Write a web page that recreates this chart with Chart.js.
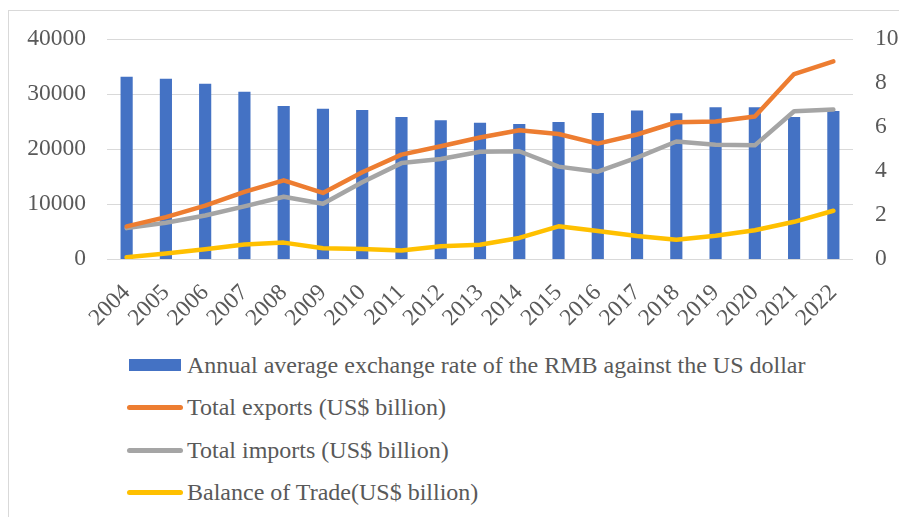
<!DOCTYPE html>
<html>
<head>
<meta charset="utf-8">
<script src="https://cdn.jsdelivr.net/npm/chart.js@4.4.0/dist/chart.umd.min.js"></script>
<style>
    body { margin: 0; background: #fff; font-family: "Liberation Serif", "Times New Roman", serif; }
    #frame { position: absolute; left: 8px; top: 10px; width: 900px; height: 520px; border: 1px solid #d9d9d9; box-sizing: border-box; }
    #chart-box { position: absolute; left: 0; top: 0; width: 899px; height: 340px; }
    #legend { position: absolute; left: 127px; top: 344px; margin: 0; padding: 0; list-style: none; }
    #legend li { display: flex; align-items: center; height: 42.5px; font-size: 24px; color: #595959; white-space: nowrap; }
    #legend .swatch { width: 56px; margin-right: 4px; display: flex; justify-content: center; }
</style>
</head>
<body>
<div id="frame"></div>
<div id="chart-box"><canvas id="trade-chart"></canvas></div>
<ul id="legend"></ul>
<script>
const years = ["2004", "2005", "2006", "2007", "2008", "2009", "2010", "2011", "2012", "2013",
               "2014", "2015", "2016", "2017", "2018", "2019", "2020", "2021", "2022"];
const exchange_rate = [8.28, 8.19, 7.97, 7.60, 6.95, 6.83, 6.77, 6.46, 6.31, 6.19,
                       6.14, 6.23, 6.64, 6.75, 6.62, 6.90, 6.90, 6.45, 6.73];
const total_exports = [5933, 7620, 9690, 12200, 14307, 12016, 15778, 18984, 20487, 22090,
                       23423, 22735, 20976, 22633, 24867, 24995, 25900, 33630, 35936];
const total_imports = [5612, 6600, 7915, 9561, 11326, 10059, 13962, 17435, 18184, 19500,
                       19592, 16796, 15879, 18438, 21357, 20784, 20660, 26870, 27160];
const trade_balance = [321, 1020, 1775, 2639, 2981, 1957, 1815, 1549, 2303, 2590,
                       3831, 5939, 5097, 4196, 3509, 4211, 5240, 6760, 8776];
const left_ticks = [0, 10000, 20000, 30000, 40000];
const right_ticks = [0, 2, 4, 6, 8, 10];

const TEXT_COLOR = "#595959";
const tick_font = { family: "'Liberation Serif', 'Times New Roman', serif", size: 23.5 };

window.addEventListener("load", () => {
    renderChart();
});

function lineSet(label, data, color) {
    return {
        type: "line",
        label: label,
        data: data,
        yAxisID: "y",
        borderColor: color,
        backgroundColor: color,
        borderWidth: 4.5,
        borderCapStyle: "round",
        borderJoinStyle: "round",
        pointRadius: 0,
        tension: 0,
        order: 1
    };
}

function renderChart() {
    const chart_ctx = document.getElementById("trade-chart");

    let chart = new Chart(chart_ctx, {
        type: "bar",
        data: {
            labels: years,
            datasets: [
                {
                    type: "bar",
                    label: "Annual average exchange rate of the RMB against the US dollar",
                    data: exchange_rate,
                    yAxisID: "y1",
                    backgroundColor: "#4472C4",
                    categoryPercentage: 1,
                    barPercentage: 0.31,
                    order: 5
                },
                lineSet("Total exports (US$ billion)", total_exports, "#ED7D31"),
                lineSet("Total imports (US$ billion)", total_imports, "#A5A5A5"),
                lineSet("Balance of Trade(US$ billion)", trade_balance, "#FFC000")
            ]
        },
        options: {
            responsive: true,
            maintainAspectRatio: false,
            animation: false,
            layout: { padding: { top: 39, left: 0, right: 0, bottom: 0 } },
            plugins: {
                legend: { display: false },
                tooltip: { enabled: false }
            },
            scales: {
                x: {
                    grid: { display: false },
                    border: { display: false },
                    ticks: { color: TEXT_COLOR, font: tick_font, minRotation: 45, maxRotation: 45, padding: 12, autoSkip: false },
                    afterFit: (s) => { s.height = 81; }
                },
                y: {
                    position: "left",
                    min: 0,
                    max: 40000,
                    afterBuildTicks: (s) => { s.ticks = left_ticks.map((v) => { return { value: v }; }); },
                    grid: { color: "#d9d9d9", lineWidth: 1, drawTicks: false },
                    border: { display: false },
                    ticks: { color: TEXT_COLOR, font: tick_font, padding: 21, callback: (v) => { return String(v); } },
                    afterFit: (s) => { s.width = 107; }
                },
                y1: {
                    position: "right",
                    min: 0,
                    max: 10,
                    afterBuildTicks: (s) => { s.ticks = right_ticks.map((v) => { return { value: v }; }); },
                    grid: { display: false, drawTicks: false },
                    border: { display: false },
                    ticks: { color: TEXT_COLOR, font: tick_font, padding: 22, callback: (v) => { return String(v); } },
                    afterFit: (s) => { s.width = 46; }
                }
            }
        }
    });

    buildLegend(chart);
}

// one legend row per dataset, stacked like the original
function buildLegend(chart) {
    const legend_list = document.getElementById("legend");

    chart.data.datasets.forEach((ds) => {
        let item = document.createElement("li");
        let swatch = document.createElement("span");
        swatch.className = "swatch";

        let mark = document.createElement("span");
        if (ds.type === "bar") {
            mark.style.cssText = "width:52px;height:12px;background:" + ds.backgroundColor;
        } else {
            mark.style.cssText = "width:56px;height:5px;border-radius:3px;background:" + ds.borderColor;
        }
        swatch.appendChild(mark);

        let text = document.createElement("span");
        text.textContent = ds.label;

        item.appendChild(swatch);
        item.appendChild(text);
        legend_list.appendChild(item);
    });
}
</script>
</body>
</html>
